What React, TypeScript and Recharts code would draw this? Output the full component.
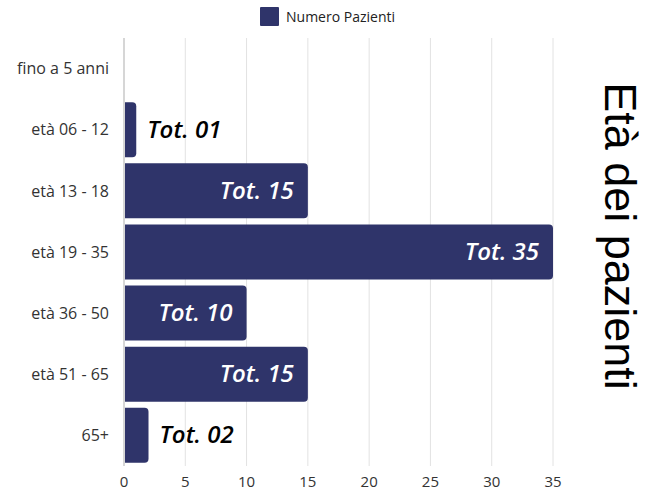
import React from "react";
import { BarChart, Bar, XAxis, YAxis, CartesianGrid, Legend, LabelList } from "recharts";

const categories = ["fino a 5 anni", "età 06 - 12", "età 13 - 18", "età 19 - 35", "età 36 - 50", "età 51 - 65", "65+"];
const values = [0, 1, 15, 35, 10, 15, 2];
const xTicks = [0, 5, 10, 15, 20, 25, 30, 35];
const seriesName = "Numero Pazienti";
const sideTitle = "Età dei pazienti";
const barColor = "#2f346a";

const data = categories.map((c, i) => ({ name: c, value: values[i] }));

const BarLabel = (props: any) => {
  const { x, y, width, height, value } = props;
  if (!value) return null;
  const txt = "Tot. " + String(value).padStart(2, "0");
  const cy = y + height / 2;
  const inside = value >= 5;
  return (
    <text
      x={inside ? x + width - 14 : x + width + 11}
      y={cy}
      dy={8}
      textAnchor={inside ? "end" : "start"}
      fill={inside ? "#ffffff" : "#000000"}
      fontFamily="'Open Sans', sans-serif"
      fontWeight={600}
      fontStyle="italic"
      fontSize={24}
    >
      {txt}
    </text>
  );
};

const LegendContent = () => (
  <div style={{ display: "flex", alignItems: "center", fontFamily: "'Open Sans', sans-serif", fontSize: 14, color: "#222", height: 19 }}>
    <div style={{ width: 19, height: 19, background: barColor, marginRight: 7, borderRadius: 1 }} />
    <span>{seriesName}</span>
  </div>
);

export default function App() {
  return (
    <div style={{ position: "absolute", top: 0, left: 0, width: 660, height: 491, background: "#fff" }}>
      <BarChart
        width={660}
        height={491}
        data={data}
        layout="vertical"
        margin={{ top: 19, right: 107, bottom: 0, left: 0 }}
        barCategoryGap={3}
      >
        <CartesianGrid horizontal={false} vertical={true} stroke="#e2e2e2" />
        <XAxis
          type="number"
          domain={[0, 35]}
          ticks={xTicks}
          axisLine={false}
          tickLine={false}
          height={25}
          tick={{ fill: "#333", fontSize: 15, fontFamily: "'Open Sans', sans-serif" }}
          tickMargin={4}
        />
        <YAxis
          type="category"
          dataKey="name"
          width={124}
          axisLine={{ stroke: "#d6d6d6", strokeWidth: 2 }}
          tickLine={false}
          tickMargin={9}
          tick={{ fill: "#333", fontSize: 16, fontFamily: "'Open Sans', sans-serif" }}
        />
        <Legend
          verticalAlign="top"
          content={<LegendContent />}
          wrapperStyle={{ position: "absolute", top: 7, left: 260, width: 200, height: 19 }}
        />
        <Bar dataKey="value" name={seriesName} fill={barColor} radius={[0, 4, 4, 0]} isAnimationActive={false}>
          <LabelList dataKey="value" content={<BarLabel />} />
        </Bar>
      </BarChart>
      <svg width={660} height={491} style={{ position: "absolute", top: 0, left: 0, pointerEvents: "none" }}>
        <text
          transform="translate(605,236) rotate(90)"
          textAnchor="middle"
          fontFamily="'Liberation Sans', Arial, sans-serif"
          fontSize={45}
          fill="#000"
        >
          {sideTitle}
        </text>
      </svg>
    </div>
  );
}
